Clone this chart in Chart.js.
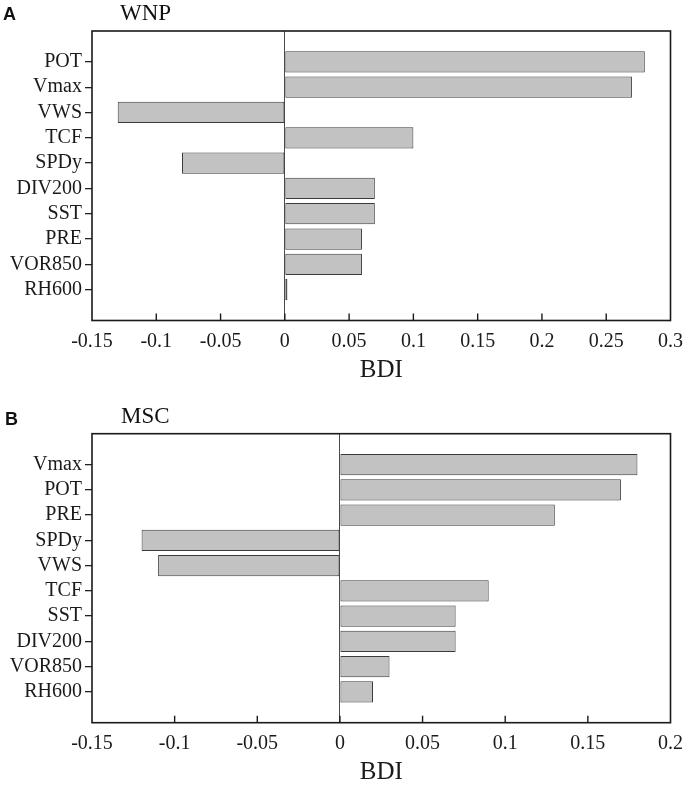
<!DOCTYPE html>
<html>
<head>
<meta charset="utf-8">
<script src="https://cdn.jsdelivr.net/npm/chart.js@4.4.1/dist/chart.umd.min.js"></script>
<style>
  html, body { margin: 0; padding: 0; background: #fff; }
  body { width: 692px; height: 788px; position: relative; overflow: hidden; }
  .panel { position: absolute; left: 0; width: 692px; }
  canvas { display: block; }
  .letter { position: absolute; font-family: "Liberation Sans", Arial, sans-serif; font-weight: bold; font-size: 18px; line-height: 18px; color: #111; }
  .ptitle { position: absolute; font-family: "Liberation Serif", "Times New Roman", serif; font-size: 23px; line-height: 23px; color: #111; }
</style>
</head>
<body>
<div class="panel" style="top:0;height:395px;"><canvas id="cA" width="692" height="395"></canvas></div>
<div class="panel" style="top:395px;height:393px;"><canvas id="cB" width="692" height="393"></canvas></div>
<div class="letter" style="left:3px;top:5px;">A</div>
<div class="ptitle" style="left:120px;top:1px;">WNP</div>
<div class="letter" style="left:5px;top:410px;">B</div>
<div class="ptitle" style="left:121px;top:404px;">MSC</div>
<script>
const catsA = ['POT', 'Vmax', 'VWS', 'TCF', 'SPDy', 'DIV200', 'SST', 'PRE', 'VOR850', 'RH600'];
const valsA = [0.28, 0.27, -0.13, 0.10, -0.08, 0.07, 0.07, 0.06, 0.06, 0.002];
const catsB = ['Vmax', 'POT', 'PRE', 'SPDy', 'VWS', 'TCF', 'SST', 'DIV200', 'VOR850', 'RH600'];
const valsB = [0.18, 0.17, 0.13, -0.12, -0.11, 0.09, 0.07, 0.07, 0.03, 0.02];
const xRangeA = [-0.15, 0.30];
const xRangeB = [-0.15, 0.20];
const xStep = 0.05;
const xTitle = 'BDI';

const SERIF = '"Liberation Serif", "Times New Roman", serif';

const framePlugin = {
  id: 'frame',
  afterDraw(chart) {
    const { ctx, chartArea: a } = chart;
    const x = chart.scales.x;
    ctx.save();
    ctx.strokeStyle = '#1a1a1a';
    ctx.lineWidth = 1.6;
    ctx.strokeRect(a.left, a.top, a.right - a.left, a.bottom - a.top);
    ctx.lineWidth = 1.4;
    x.ticks.forEach(t => {
      const px = x.getPixelForValue(t.value);
      if (px <= a.left + 1 || px >= a.right - 1) return;
      ctx.beginPath();
      ctx.moveTo(px, a.bottom);
      ctx.lineTo(px, a.bottom - 7);
      ctx.stroke();
    });
    ctx.restore();
  }
};

function makeChart(id, cats, vals, xr, padTop, axisH, titlePadBottom) {
  const data = vals.map((v, i) => ({ x: v, y: i }));
  return new Chart(document.getElementById(id), {
    type: 'bar',
    data: {
      datasets: [{
        data: data,
        backgroundColor: '#c2c2c2',
        borderColor: '#3a3a3a',
        borderWidth: 1,
        borderSkipped: false,
        barPercentage: 0.84,
        categoryPercentage: 1.0
      }]
    },
    options: {
      indexAxis: 'y',
      responsive: false,
      animation: false,
      devicePixelRatio: 1,
      layout: { padding: { top: padTop, right: 21, left: 0, bottom: 0 } },
      plugins: { legend: { display: false }, tooltip: { enabled: false }, title: { display: false } },
      scales: {
        x: {
          type: 'linear',
          min: xr[0],
          max: xr[1],
          afterFit(scale) { scale.height = axisH; },
          ticks: {
            stepSize: xStep,
            padding: 9,
            color: '#1a1a1a',
            font: { family: SERIF, size: 20 },
            callback: v => String(Math.round(v * 100) / 100)
          },
          grid: {
            drawTicks: false,
            lineWidth: 1,
            color: ctx => (ctx.tick && Math.abs(ctx.tick.value) < 1e-9) ? '#4a4a4a' : 'rgba(0,0,0,0)'
          },
          border: { display: false },
          title: {
            display: true,
            text: xTitle,
            color: '#1a1a1a',
            font: { family: SERIF, size: 25 },
            padding: { top: 0, bottom: titlePadBottom }
          }
        },
        y: {
          type: 'linear',
          reverse: true,
          offset: false,
          min: -1.22,
          max: 10.22,
          afterFit(scale) { scale.width = 92; },
          afterBuildTicks(scale) {
            scale.ticks = cats.map((c, i) => ({ value: i }));
          },
          ticks: {
            stepSize: 1,
            autoSkip: false,
            includeBounds: false,
            maxTicksLimit: 30,
            padding: 3,
            color: '#1a1a1a',
            font: { family: SERIF, size: 20 },
            callback: v => cats[v] !== undefined ? cats[v] : ''
          },
          grid: {
            offset: false,
            drawOnChartArea: false,
            drawTicks: true,
            tickLength: 7,
            color: '#222',
            lineWidth: 1.3
          },
          border: { display: false }
        }
      }
    },
    plugins: [framePlugin]
  });
}

makeChart('cA', catsA, valsA, xRangeA, 31, 74.5, 10);
makeChart('cB', catsB, valsB, xRangeB, 38.7, 65.3, 1);
</script>
</body>
</html>
